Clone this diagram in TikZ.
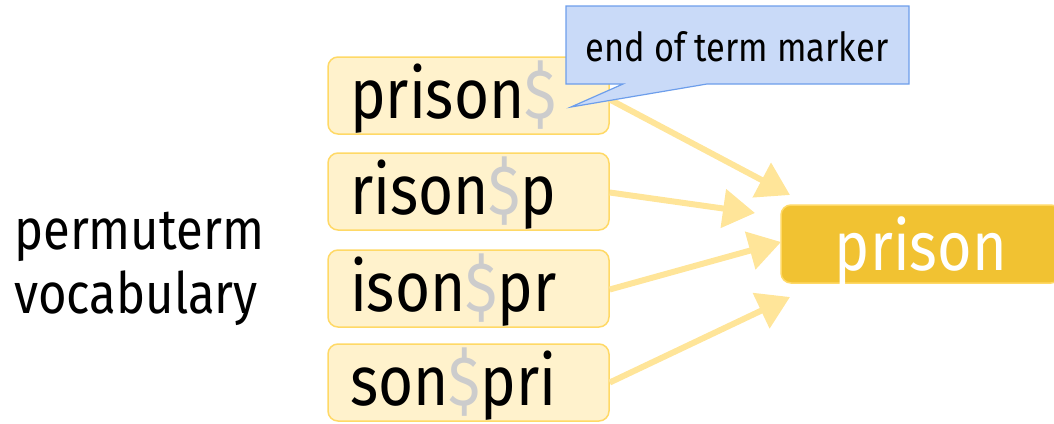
\documentclass[tikz,border=0pt]{standalone}
\usepackage{fontspec}
\setmainfont{Fira Sans}[FakeStretch=0.86]
\usetikzlibrary{arrows.meta}
\definecolor{boxfill}{HTML}{FFF2CC}
\definecolor{boxline}{HTML}{FFD966}
\definecolor{arrowc}{HTML}{FFE599}
\definecolor{termfill}{HTML}{F1C232}
\definecolor{callfill}{HTML}{C9DAF8}
\definecolor{callline}{HTML}{6D9EEB}
\definecolor{dollar}{HTML}{CCCCCC}
\newcommand{\dl}{\textcolor{dollar}{\$}}
\tikzset{
  rotbox/.style={draw=boxline, fill=boxfill, line width=1.5pt, rounded corners=10pt,
    minimum height=77pt, text width=237pt, inner xsep=22pt, inner ysep=0pt, align=left,
    text height=54pt, text depth=9pt,
    font=\fontsize{70}{72}\selectfont},
  termbox/.style={draw=boxline, fill=termfill, line width=1.5pt, rounded corners=10pt,
    minimum height=78pt, minimum width=280pt, inner sep=0pt, text=white,
    text height=58pt, text depth=6pt,
    font=\fontsize{69}{70}\selectfont},
  feed/.style={draw=arrowc, line width=6pt, -{Triangle[length=32pt,width=38pt]}},
}
\begin{document}
\begin{tikzpicture}[x=1pt,y=-1pt]
\useasboundingbox (0,0) rectangle (1054,423);
% permuterm rotations
\node[rotbox] (b1) at (468.5,95.5) {prison\dl};
\node[rotbox] (b2) at (468.5,191.5) {rison\dl p};
\node[rotbox] (b3) at (468.5,288.5) {ison\dl pr};
\node[rotbox] (b4) at (468.5,382.5) {son\dl pri};
% original term
\node[termbox] (t) at (921,244) {prison};
% side label
\node[anchor=west, align=left, inner sep=0pt, font=\fontsize{57}{64}\selectfont] (lab) at (14,269) {permuterm\\vocabulary};
% arrow tips
\coordinate (e1) at (790,195);
\coordinate (e2) at (755,213);
\coordinate (e3) at (781,242);
\coordinate (e4) at (790,297);
\draw[feed] ([yshift=-4pt]b1.east) -- (e1);
\draw[feed] ([yshift=-1pt]b2.east) -- (e2);
\draw[feed] ([yshift=-1pt]b3.east) -- (e3);
\draw[feed] (b4.east) -- (e4);
% callout
\draw[draw=callline, fill=callfill, line width=1.2pt]
  (566,6) -- (909,6) -- (909,84) -- (707,84) -- (571,107) -- (623,84) -- (566,84) -- cycle;
\node[inner sep=0pt, font=\fontsize{40}{44}\selectfont] (call) at (737,47) {end of term marker};
\end{tikzpicture}
\end{document}
